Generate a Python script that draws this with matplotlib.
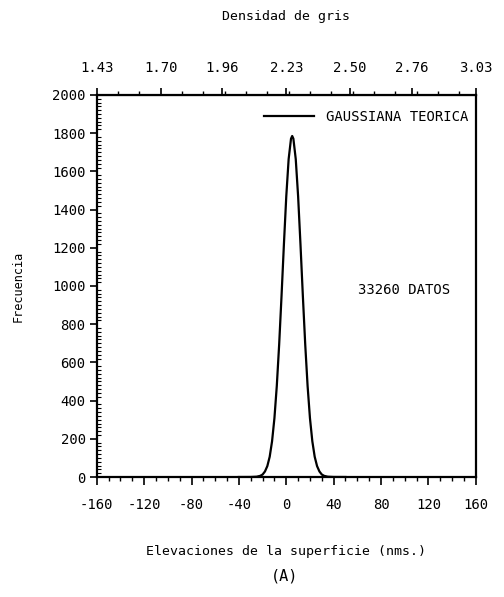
import matplotlib
matplotlib.use('Agg')
import matplotlib.pyplot as plt
from matplotlib.ticker import MultipleLocator, AutoMinorLocator

# curva gaussiana teorica (elevacion, frecuencia)
elevacion = [-40, -35, -30, -25, -22, -20, -18, -16, -14, -12, -10, -8, -6, -4, -2,
             0, 2, 4, 5, 6, 8, 10, 12, 14, 16, 18, 20, 22, 24, 26, 28, 30, 32, 35, 40, 50]
frecuencia = [0, 0, 0.1, 1.6, 6, 13, 29, 57, 106, 187, 308, 477, 694, 948, 1217,
              1469, 1664, 1771, 1785, 1771, 1664, 1469, 1217, 948, 694, 477, 308, 187,
              106, 57, 29, 13, 6, 1.6, 0.1, 0]

x_ticks = [-160, -120, -80, -40, 0, 40, 80, 120, 160]
y_ticks = [0, 200, 400, 600, 800, 1000, 1200, 1400, 1600, 1800, 2000]
densidad_ticks = [1.43, 1.70, 1.96, 2.23, 2.50, 2.76, 3.03]
n_datos = 33260

FONT = 'DejaVu Sans Mono'
plt.rcParams['font.family'] = FONT
plt.rcParams['axes.unicode_minus'] = False

fig = plt.figure(figsize=(5.04, 5.97), dpi=100)
ax = fig.add_axes([0.192, 0.201, 0.752, 0.640])

ax.plot(elevacion, frecuencia, color='black', linewidth=1.6, label='GAUSSIANA TEORICA')

ax.set_xlim(-160, 160)
ax.set_ylim(0, 2000)
ax.set_xticks(x_ticks)
ax.xaxis.set_minor_locator(MultipleLocator(10))
ax.set_yticks(y_ticks)
ax.yaxis.set_minor_locator(MultipleLocator(20))
ax.tick_params(axis='x', which='major', direction='out', length=6, width=1.2, labelsize=10, pad=9)
ax.tick_params(axis='x', which='minor', direction='out', length=3, width=1)
ax.tick_params(axis='y', which='major', direction='out', length=5, width=1.2, labelsize=10, pad=3)
ax.tick_params(axis='y', which='minor', direction='in', length=3, width=0.8)
for s in ax.spines.values():
    s.set_linewidth(1.6)

# eje superior: densidad de gris (lineal entre extremos)
d0, d1 = densidad_ticks[0], densidad_ticks[-1]
def to_dens(x):
    return d0 + (x + 160) * (d1 - d0) / 320
def to_elev(d):
    return (d - d0) * 320 / (d1 - d0) - 160
top = ax.secondary_xaxis('top', functions=(to_dens, to_elev))
top.set_xticks(densidad_ticks)
top.set_xticklabels([f'{d:.2f}' for d in densidad_ticks])
top.xaxis.set_minor_locator(AutoMinorLocator(3))
top.tick_params(which='major', direction='out', length=5, width=1.2, labelsize=10, pad=9)
top.tick_params(which='minor', direction='out', length=3, width=1)
top.set_xlabel('Densidad de gris', fontsize=9.5, labelpad=30)

ax.set_xlabel('Elevaciones de la superficie (nms.)', fontsize=9.5, labelpad=24)
ax.set_ylabel('Frecuencia', fontsize=8.5, labelpad=20)

ax.legend(loc='center right', bbox_to_anchor=(1.0, 0.942), frameon=False, fontsize=10,
          handlelength=3.6, handletextpad=0.9, borderaxespad=0.1)
ax.text(0.81, 0.49, f'{n_datos} DATOS', transform=ax.transAxes, fontsize=10,
        ha='center', va='center')

fig.text(0.565, 0.036, '(A)', fontsize=11, ha='center', va='center')

fig.savefig('out.png', dpi=100)
